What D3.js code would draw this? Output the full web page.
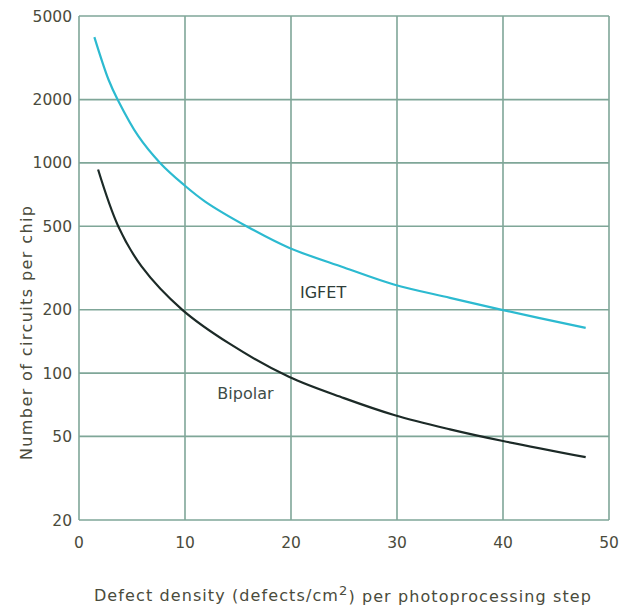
<!doctype html>
<html>
<head>
    <title>Circuits per chip vs defect density</title>
    <style>
        body { margin: 0; background: #fff; }
        text { font-family: "DejaVu Sans", sans-serif; fill: #4a4b3c; }
    </style>
</head>
<body>
    <div id="chart"></div>

    <script src="https://d3js.org/d3.v7.min.js"></script>
    <script>
        // data: [defect density, circuits per chip]
        var igfet = [[1.45, 3970], [2.8, 2480], [3.65, 2000], [5.6, 1340], [7.65, 1000],
                     [9.85, 790], [11.9, 655], [15.8, 500], [19.8, 395], [25, 318],
                     [29.7, 264], [35, 228], [39.9, 200], [47.8, 164]];
        var bipolar = [[1.8, 930], [3.7, 500], [5.9, 322], [9.75, 200], [14.2, 138],
                       [19.8, 96], [25, 76], [29.8, 63], [35, 54], [40, 47.5], [47.8, 39.8]];
        var xTicks = [0, 10, 20, 30, 40, 50];
        var yTicks = [20, 50, 100, 200, 500, 1000, 2000, 5000];

        var margin = {top: 16, right: 22, bottom: 86, left: 79},
            width = 631 - margin.left - margin.right,
            height = 606 - margin.top - margin.bottom;

        var svg = d3.select("#chart")
            .append("svg")
                .attr("width", 631)
                .attr("height", 606)
            .append("g")
                .attr("transform", "translate(" + margin.left + "," + margin.top + ")");

        var x = d3.scaleLinear()
            .domain([0, 50])
            .range([0, width]);

        var y = d3.scaleLog()
            .domain([20, 5000])
            .range([height, 0]);

        var gridColor = "#7fa698";

        // grid lines (frame included)
        svg.append("g")
            .selectAll("line")
            .data(xTicks)
            .enter()
            .append("line")
            .attr("x1", function (d) { return x(d); })
            .attr("x2", function (d) { return x(d); })
            .attr("y1", 0)
            .attr("y2", height)
            .style("stroke", gridColor)
            .style("stroke-width", 1.6);

        svg.append("g")
            .selectAll("line")
            .data(yTicks)
            .enter()
            .append("line")
            .attr("x1", 0)
            .attr("x2", width)
            .attr("y1", function (d) { return y(d); })
            .attr("y2", function (d) { return y(d); })
            .style("stroke", gridColor)
            .style("stroke-width", 1.6);

        // tick labels
        svg.append("g")
            .selectAll("text")
            .data(xTicks)
            .enter()
            .append("text")
            .attr("x", function (d) { return x(d); })
            .attr("y", height + 28)
            .attr("text-anchor", "middle")
            .style("font-size", "15.5px")
            .text(function (d) { return d; });

        svg.append("g")
            .selectAll("text")
            .data(yTicks)
            .enter()
            .append("text")
            .attr("x", -7)
            .attr("y", function (d) { return y(d); })
            .attr("dy", "0.36em")
            .attr("text-anchor", "end")
            .style("font-size", "15.5px")
            .text(function (d) { return d; });

        // curves
        var line = d3.line()
            .x(function (d) { return x(d[0]); })
            .y(function (d) { return y(d[1]); })
            .curve(d3.curveCatmullRom.alpha(0.5));

        svg.append("path")
            .datum(igfet)
            .attr("d", line)
            .style("fill", "none")
            .style("stroke", "#2cbad0")
            .style("stroke-width", 2.2);

        svg.append("path")
            .datum(bipolar)
            .attr("d", line)
            .style("fill", "none")
            .style("stroke", "#1c2a27")
            .style("stroke-width", 2.2);

        // curve labels
        svg.append("text")
            .attr("x", x(20.85))
            .attr("y", y(227))
            .style("font-size", "16px")
            .style("fill", "#2f3d38")
            .text("IGFET");

        svg.append("text")
            .attr("x", x(13.05))
            .attr("y", y(75.5))
            .style("font-size", "16px")
            .style("fill", "#3d4d48")
            .text("Bipolar");

        // axis titles
        var xTitle = svg.append("text")
            .attr("x", width / 2 - 1)
            .attr("y", height + 81)
            .attr("text-anchor", "middle")
            .style("font-size", "16px")
            .style("letter-spacing", "1.1px");
        xTitle.append("tspan").text("Defect density (defects/cm");
        xTitle.append("tspan").attr("dy", "-0.45em").style("font-size", "13px").text("2");
        xTitle.append("tspan").attr("dy", "0.45em").text(") per photoprocessing step");

        svg.append("text")
            .attr("transform", "translate(" + (-47) + "," + (y(50) - 104) + ") rotate(-90)")
            .attr("text-anchor", "middle")
            .style("font-size", "16px")
            .style("letter-spacing", "1.4px")
            .text("Number of circuits per chip");
    </script>
</body>
</html>
